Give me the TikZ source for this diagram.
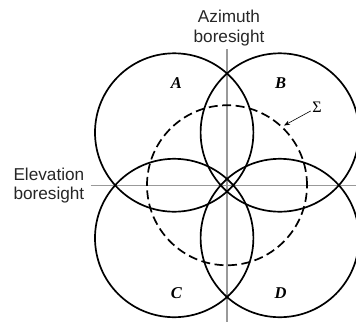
\documentclass[tikz,border=0pt]{standalone}
\usepackage{fontspec}
\setmainfont{Liberation Serif}
\newfontfamily\axfont{Liberation Sans}
\usetikzlibrary{arrows.meta}
\begin{document}
\begin{tikzpicture}[x=1pt,y=-1pt,
  beam/.style={line width=1.7pt},
  sumbeam/.style={line width=1.7pt, dash pattern=on 9pt off 4.5pt},
  axisline/.style={line width=1.3pt, draw=black!40},
  axlabel/.style={font=\axfont\fontsize{17.2}{19}\selectfont, inner sep=0pt, text=black!85},
  quad/.style={font=\fontsize{16.5}{16.5}\selectfont\bfseries\itshape, inner sep=0pt},
]
\useasboundingbox (0,0) rectangle (356,322);
\coordinate (O) at (227,185.25);
\coordinate (vtop) at (227,49);
\coordinate (vbot) at (227,322);
\coordinate (hleft) at (90.5,185.25);
\coordinate (hright) at (356,185.25);
\draw[axisline] (vtop) -- (vbot);
\draw[axisline] (hleft) -- (hright);
\draw[beam] (174.2,132.5) circle[radius=79.2pt];
\draw[beam] (279.8,132.5) circle[radius=79.2pt];
\draw[beam] (174.2,238) circle[radius=79.2pt];
\draw[beam] (279.8,238) circle[radius=79.2pt];
\draw[sumbeam] (O) circle[radius=80pt];
\node[axlabel, anchor=base] (az1) at (229,22.7) {Azimuth};
\node[axlabel, anchor=base] (az2) at (229,42.3) {boresight};
\node[axlabel, anchor=base west] (el1) at (13.3,180.7) {Elevation};
\node[axlabel, anchor=base west] (el2) at (13.3,199.3) {boresight};
\node[quad] (qa) at (176.3,83.3) {A};
\node[quad] (qb) at (280.5,83.3) {B};
\node[quad] (qc) at (176.3,292.7) {C};
\node[quad] (qd) at (280.5,292.7) {D};
\node[font=\fontsize{16}{16}\selectfont, inner sep=1.5pt] (sig) at (317,107.5) {Σ};
\coordinate (sigtip) at (284,125.5);
\draw[-{Stealth[length=6pt,width=4.5pt]}, line width=0.6pt] (sig) -- (sigtip);
\end{tikzpicture}
\end{document}
